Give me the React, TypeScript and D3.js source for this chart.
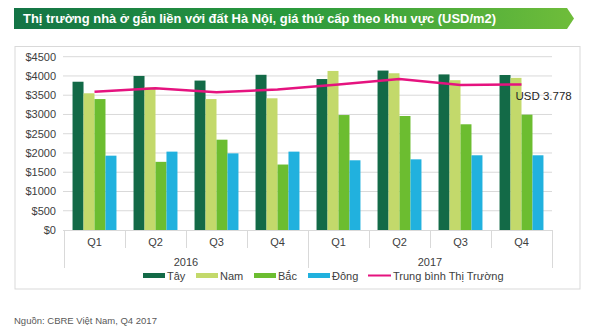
import React from "react";
import * as d3 from "d3";

const quarters = ["Q1", "Q2", "Q3", "Q4", "Q1", "Q2", "Q3", "Q4"];
const years = ["2016", "2017"];
const seriesNames = ["Tây", "Nam", "Bắc", "Đông"];
const tay = [3850, 4000, 3880, 4030, 3920, 4140, 4040, 4025];
const nam = [3550, 3705, 3400, 3420, 4130, 4070, 3890, 3950];
const bac = [3400, 1770, 2345, 1700, 2985, 2960, 2745, 2995];
const dong = [1930, 2035, 1990, 2035, 1810, 1835, 1940, 1940];
const avgLine = [3590, 3680, 3575, 3650, 3780, 3920, 3765, 3778];
const lineName = "Trung bình Thị Trường";
const yTicks = [0, 500, 1000, 1500, 2000, 2500, 3000, 3500, 4000, 4500];
const colors = ["#136a47", "#c3d96b", "#6cbd30", "#21b1de"];
const lineColor = "#e5137f";
const title = "Thị trường nhà ở gắn liền với đất Hà Nội, giá thứ cấp theo khu vực (USD/m2)";
const source = "Nguồn: CBRE Việt Nam, Q4 2017";
const endLabel = "USD 3.778";

const font = "'Liberation Sans', Arial, sans-serif";

export default function App() {
  const W = 600, H = 329;
  const allSeries = [tay, nam, bac, dong];
  const idx = quarters.map((_, i) => i);
  const x = d3.scaleBand<number>().domain(idx).range([64, 552]).padding(0);
  const bw = x.bandwidth();
  const x1 = d3.scaleBand<number>().domain([0, 1, 2, 3]).range([bw * 0.14, bw * 0.86]).padding(0);
  const y = d3.scaleLinear().domain([0, 4500]).range([230, 56.7]);
  const line = d3.line<number>().x((_, i) => (x(i) as number) + bw / 2).y((d) => y(d));
  const lastI = avgLine.length - 1;

  const legendItems = [
    { label: seriesNames[0], color: colors[0], sx: 143, sw: 22, tx: 167 },
    { label: seriesNames[1], color: colors[1], sx: 196, sw: 22, tx: 220 },
    { label: seriesNames[2], color: colors[2], sx: 254, sw: 22, tx: 278 },
    { label: seriesNames[3], color: colors[3], sx: 308, sw: 22, tx: 332 },
  ];

  return (
    <svg width={W} height={H} style={{ position: "absolute", left: 0, top: 0, background: "#fff" }} fontFamily={font}>
      <defs>
        <linearGradient id="bannerGrad" x1="0" x2="1" y1="0" y2="0">
          <stop offset="0" stopColor="#137446" />
          <stop offset="0.5" stopColor="#2a9a3c" />
          <stop offset="1" stopColor="#6fbd3a" />
        </linearGradient>
      </defs>
      <rect width={W} height={H} fill="#fff" />
      {/* banner */}
      <path d="M14,8 L567,8 L574,18.5 L567,29 L14,29 Z" fill="url(#bannerGrad)" />
      <text x={23} y={23} fill="#fff" fontSize={13} fontWeight="bold" textLength={473} lengthAdjust="spacingAndGlyphs">{title}</text>

      {/* chart frame */}
      <rect x={15} y={46.5} width={565} height={242.5} fill="none" stroke="#d9d9d9" strokeWidth={1} />

      {/* gridlines */}
      {yTicks.map((t) => (
        <g key={t}>
          {t > 0 && <line x1={63} x2={552} y1={y(t)} y2={y(t)} stroke="#d9d9d9" strokeWidth={1} />}
          <text x={56} y={y(t) + 4} textAnchor="end" fontSize={11} fill="#404040">{"$" + t}</text>
        </g>
      ))}

      {/* bars */}
      {allSeries.map((s, si) =>
        s.map((v, i) => (
          <rect
            key={si + "-" + i}
            x={(x(i) as number) + (x1(si) as number)}
            y={y(v)}
            width={x1.bandwidth()}
            height={y(0) - y(v)}
            fill={colors[si]}
          />
        ))
      )}

      {/* baseline and category axis */}
      <line x1={63} x2={552} y1={230.5} y2={230.5} stroke="#d9d9d9" />
      {idx.map((i) => (
        <g key={"q" + i}>
          <line
            x1={(x(i) as number) + 0.5}
            x2={(x(i) as number) + 0.5}
            y1={230}
            y2={i % 4 === 0 ? 268 : 248}
            stroke="#d9d9d9"
          />
          <text x={(x(i) as number) + bw / 2} y={246} textAnchor="middle" fontSize={11} fill="#404040">
            {quarters[i]}
          </text>
        </g>
      ))}
      <line x1={552.5} x2={552.5} y1={230} y2={268} stroke="#d9d9d9" />
      {years.map((yr, k) => (
        <text
          key={yr}
          x={((x(k * 4) as number) + (x(k * 4 + 3) as number) + bw) / 2}
          y={266}
          textAnchor="middle"
          fontSize={11}
          fill="#404040"
        >
          {yr}
        </text>
      ))}

      {/* average line */}
      <path d={line(avgLine) || ""} fill="none" stroke={lineColor} strokeWidth={2.5} />
      <text x={(x(lastI) as number) + bw / 2 - 6} y={y(avgLine[lastI]) + 15} fontSize={11.5} fill="#262626">
        {endLabel}
      </text>

      {/* legend */}
      {legendItems.map((it) => (
        <g key={it.label}>
          <rect x={it.sx} y={273} width={it.sw} height={5} fill={it.color} />
          <text x={it.tx} y={279.5} fontSize={11} fill="#404040">{it.label}</text>
        </g>
      ))}
      <rect x={368} y={274.5} width={23} height={2} fill={lineColor} />
      <text x={393} y={279.5} fontSize={11} fill="#404040">{lineName}</text>

      {/* source */}
      <text x={14} y={324} fontSize={9.5} fill="#595959">{source}</text>
    </svg>
  );
}
